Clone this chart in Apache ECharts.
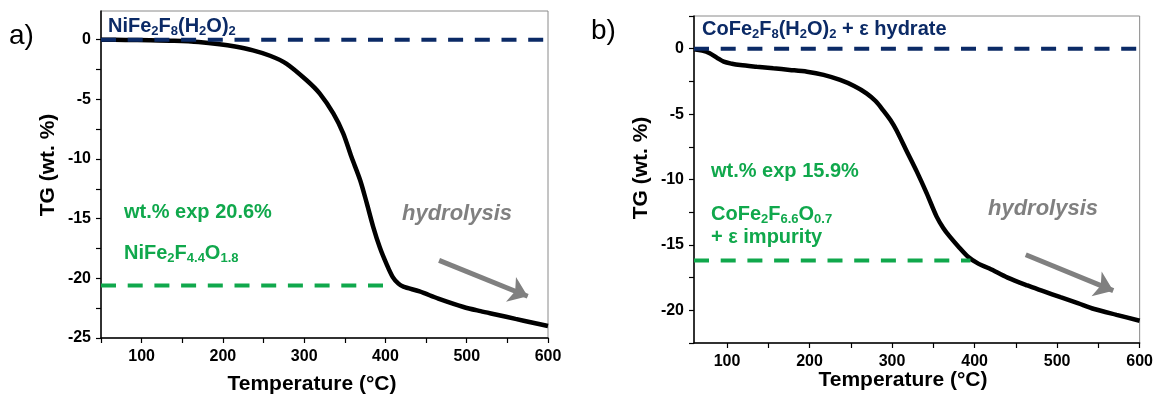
<!DOCTYPE html>
<html>
<head>
<meta charset="utf-8">
<script src="https://cdn.jsdelivr.net/npm/echarts@6/dist/echarts.min.js"></script>
<style>html,body{margin:0;padding:0;background:#fff}#c{width:1156px;height:402px}</style>
</head>
<body>
<div id="c"></div>
<script>
// ---- data (panel a) ----
const tempA = [50, 80, 110, 140, 170, 196, 215, 237, 258, 278, 303, 319, 336, 348, 358, 369, 377, 385, 393, 401, 409, 416, 422, 442, 465, 496, 517, 537, 560, 580, 600];
const tgA   = [0, -0.02, -0.05, -0.1, -0.2, -0.38, -0.58, -0.9, -1.35, -2.0, -3.4, -4.5, -6.2, -7.85, -9.8, -11.8, -13.7, -15.7, -17.4, -18.75, -19.9, -20.45, -20.7, -21.1, -21.7, -22.4, -22.75, -23.05, -23.4, -23.7, -24.0];
// ---- data (panel b) ----
const tempB = [60, 70, 79, 88, 96, 106, 116, 136, 156, 176, 197, 217, 237, 254, 269, 280, 289, 298, 305, 317, 330, 342, 354, 362, 370, 380, 392, 405, 418, 440, 464, 484, 504, 525, 545, 572, 600];
const tgB   = [-0.05, -0.15, -0.35, -0.7, -0.99, -1.15, -1.25, -1.38, -1.5, -1.62, -1.76, -2.0, -2.39, -2.85, -3.41, -4.0, -4.69, -5.45, -6.2, -7.74, -9.4, -11.06, -12.84, -13.7, -14.37, -15.1, -15.9, -16.45, -16.8, -17.5, -18.1, -18.55, -19.0, -19.45, -19.9, -20.35, -20.8];
// reference lines
const refA_start = [[50, 0], [600, 0]];
const refA_exp = [[50, -20.6], [401, -20.6]];
const refB_start = [[60, 0], [600, 0]];
const refB_exp = [[60, -16.2], [395, -16.2]];
// arrows (data coords)
const arrowA = [[466, -18.5], [575, -21.5]];
const arrowB = [[462, -15.75], [568, -18.5]];
// tick labels
const xLabelsA = [100, 200, 300, 400, 500, 600];
const xTicksA = [50, 100, 150, 200, 250, 300, 350, 400, 450, 500, 550, 600];
const yLabelsA = [-25, -20, -15, -10, -5, 0];
const yTicksA = [-25, -22.5, -20, -17.5, -15, -12.5, -10, -7.5, -5, -2.5, 0];
const xLabelsB = [100, 200, 300, 400, 500, 600];
const xTicksB = [100, 150, 200, 250, 300, 350, 400, 450, 500, 550, 600];
const yLabelsB = [-20, -15, -10, -5, 0];
const yTicksB = [-22.5, -20, -17.5, -15, -12.5, -10, -7.5, -5, -2.5, 0, 2.5];

const zip = (a, b) => a.map((v, i) => [v, b[i]]);
const FF = '"Liberation Sans", Arial, sans-serif';
const NAVY = '#0b2a66';
const GREEN = '#10a84c';
const GRAY = '#808080';

function xAxis(gi, min, max, labels, ticks) {
  return {
    type: 'value', gridIndex: gi, min: min, max: max,
    axisLine: { show: true, onZero: false, lineStyle: { color: '#000', width: 1.5 } },
    axisTick: { show: true, inside: false, length: 5, customValues: ticks, lineStyle: { color: '#000', width: 1.2 } },
    axisLabel: { customValues: labels, margin: 11, color: '#000', fontSize: 16, fontWeight: 'bold', fontFamily: FF },
    splitLine: { show: false }
  };
}
function yAxis(gi, min, max, labels, ticks) {
  return {
    type: 'value', gridIndex: gi, min: min, max: max,
    axisLine: { show: true, onZero: false, lineStyle: { color: '#000', width: 1.5 } },
    axisTick: { show: true, inside: false, length: 5, customValues: ticks, lineStyle: { color: '#000', width: 1.2 } },
    axisLabel: { customValues: labels, margin: 10, color: '#000', fontSize: 16, fontWeight: 'bold', fontFamily: FF },
    splitLine: { show: false }
  };
}
function lineSeries(xi, data, color, width, type, z, smooth) {
  return {
    type: 'line', xAxisIndex: xi, yAxisIndex: xi, data: data, showSymbol: false, symbol: 'none',
    smooth: smooth || false,
    lineStyle: { color: color, width: width, type: type }, z: z, silent: true, animation: false
  };
}
function arrowSeries(xi, pts) {
  return {
    type: 'line', xAxisIndex: xi, yAxisIndex: xi, data: [], silent: true, animation: false,
    markLine: {
      silent: true, animation: false, symbol: ['none', 'arrow'], symbolSize: [20, 18],
      label: { show: false },
      lineStyle: { color: GRAY, width: 5, type: 'solid' },
      data: [[{ coord: pts[0] }, { coord: pts[1] }]]
    }
  };
}
function txt(x, y, text, rich) {
  return {
    type: 'text', x: x, y: y, silent: true,
    style: { text: text, rich: rich, verticalAlign: 'middle', align: 'left' }
  };
}
function richSet(color, size, sub) {
  return {
    m: { fill: color, fontSize: size, fontWeight: 'bold', fontFamily: FF, lineHeight: size + 4, verticalAlign: 'middle' },
    s: { fill: color, fontSize: sub, fontWeight: 'bold', fontFamily: FF, lineHeight: sub - 1, verticalAlign: 'bottom' }
  };
}
const rNavy = richSet(NAVY, 20, 13);
const rGreen = richSet(GREEN, 20, 13);

const chart = echarts.init(document.getElementById('c'), null, { renderer: 'canvas' });
chart.setOption({
  animation: false,
  backgroundColor: '#fff',
  grid: [
    { left: 101, top: 11, width: 447, height: 327, show: true, borderColor: '#8a8a8a', borderWidth: 1, backgroundColor: 'transparent' },
    { left: 694, top: 16, width: 446, height: 327, show: true, borderColor: '#8a8a8a', borderWidth: 1, backgroundColor: 'transparent' }
  ],
  xAxis: [xAxis(0, 50, 600, xLabelsA, xTicksA), xAxis(1, 60, 600, xLabelsB, xTicksB)],
  yAxis: [yAxis(0, -25, 2.4, yLabelsA, yTicksA), yAxis(1, -22.5, 2.5, yLabelsB, yTicksB)],
  series: [
    lineSeries(0, refA_start, NAVY, 4, [15, 11.7], 3),
    lineSeries(0, refA_exp, GREEN, 4, [15, 11.7], 3),
    lineSeries(0, zip(tempA, tgA), '#000', 4.5, 'solid', 2, 0.3),
    arrowSeries(0, arrowA),
    lineSeries(1, refB_start, NAVY, 4, [15, 11.7], 3),
    lineSeries(1, refB_exp, GREEN, 4, [15, 11.7], 3),
    lineSeries(1, zip(tempB, tgB), '#000', 4.5, 'solid', 2, 0.3),
    arrowSeries(1, arrowB)
  ],
  graphic: [
    // panel letters
    { type: 'text', x: 9, y: 36, silent: true, style: { text: 'a)', fill: '#000', fontSize: 28, fontFamily: FF, verticalAlign: 'middle' } },
    { type: 'text', x: 591, y: 31, silent: true, style: { text: 'b)', fill: '#000', fontSize: 28, fontFamily: FF, verticalAlign: 'middle' } },
    // axis titles
    { type: 'text', x: 312, y: 384, silent: true, style: { text: 'Temperature (°C)', fill: '#000', fontSize: 21, fontWeight: 'bold', fontFamily: FF, align: 'center', verticalAlign: 'middle' } },
    { type: 'text', x: 903, y: 380, silent: true, style: { text: 'Temperature (°C)', fill: '#000', fontSize: 21, fontWeight: 'bold', fontFamily: FF, align: 'center', verticalAlign: 'middle' } },
    { type: 'text', x: 48, y: 165, rotation: Math.PI / 2, silent: true, style: { text: 'TG (wt. %)', fill: '#000', fontSize: 21, fontWeight: 'bold', fontFamily: FF, align: 'center', verticalAlign: 'middle' } },
    { type: 'text', x: 641, y: 168, rotation: Math.PI / 2, silent: true, style: { text: 'TG (wt. %)', fill: '#000', fontSize: 21, fontWeight: 'bold', fontFamily: FF, align: 'center', verticalAlign: 'middle' } },
    // annotations panel a
    txt(108, 26, '{m|NiFe}{s|2}{m|F}{s|8}{m|(H}{s|2}{m|O)}{s|2}', rNavy),
    txt(124, 212, '{m|wt.% exp 20.6%}', rGreen),
    txt(124, 253, '{m|NiFe}{s|2}{m|F}{s|4.4}{m|O}{s|1.8}', rGreen),
    { type: 'text', x: 402, y: 214, silent: true, style: { text: 'hydrolysis', fill: GRAY, fontSize: 22, fontWeight: 'bold', fontStyle: 'italic', fontFamily: FF, verticalAlign: 'middle' } },
    // annotations panel b
    txt(702, 29, '{m|CoFe}{s|2}{m|F}{s|8}{m|(H}{s|2}{m|O)}{s|2}{m| + ε hydrate}', rNavy),
    txt(711, 171, '{m|wt.% exp 15.9%}', rGreen),
    txt(711, 214, '{m|CoFe}{s|2}{m|F}{s|6.6}{m|O}{s|0.7}', rGreen),
    txt(711, 237, '{m|+ ε impurity}', rGreen),
    { type: 'text', x: 988, y: 209, silent: true, style: { text: 'hydrolysis', fill: GRAY, fontSize: 22, fontWeight: 'bold', fontStyle: 'italic', fontFamily: FF, verticalAlign: 'middle' } }
  ]
});
</script>
</body>
</html>
